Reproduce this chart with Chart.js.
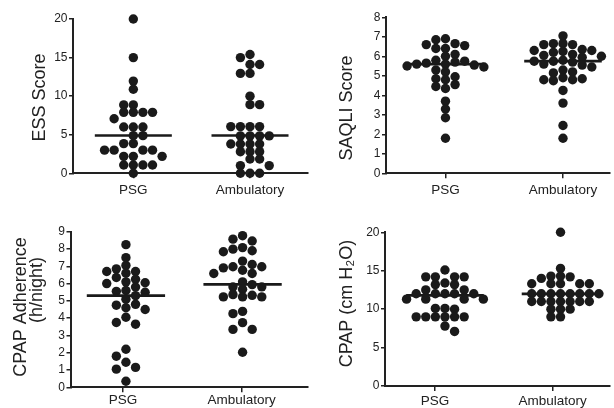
<!DOCTYPE html>
<html><head><meta charset="utf-8">
<script src="https://cdn.jsdelivr.net/npm/chart.js@4"></script>
<style>
html,body{margin:0;padding:0;background:#fff;width:614px;height:408px;overflow:hidden;}
canvas{position:absolute;display:block;}
</style></head><body>
<canvas id="c1" width="312" height="204" style="left:0;top:0"></canvas>
<canvas id="c2" width="302" height="204" style="left:312px;top:0"></canvas>
<canvas id="c3" width="312" height="204" style="left:0;top:204px"></canvas>
<canvas id="c4" width="302" height="204" style="left:312px;top:204px"></canvas>
<script>
// ---------- data ----------
const categories = ["PSG", "Ambulatory"];

const essPSG = [20, 15, 11.95, 10.9, 8.86, 8.86, 7.9, 7.9, 7.9, 7.9, 7.07, 6.0, 6.0, 6.0, 4.88, 4.88, 3.85, 3.85, 3.0, 3.0, 3.0, 3.0, 2.2, 2.2, 2.2, 1.07, 1.07, 1.07, 1.07, 0];
const essAmb = [15.4, 15.0, 14.1, 14.1, 12.95, 12.95, 10.0, 8.9, 8.9, 6.05, 6.05, 6.05, 6.05, 4.85, 4.85, 4.85, 4.85, 3.8, 3.8, 3.8, 3.8, 2.8, 2.8, 2.8, 1.86, 1.86, 1.0, 1.0, 0, 0, 0];
const essMedian = [4.9, 4.9];

const saqliPSG = [6.9, 6.85, 6.65, 6.6, 6.55, 6.4, 6.4, 6.1, 6.0, 5.8, 5.75, 5.7, 5.65, 5.6, 5.6, 5.55, 5.5, 5.45, 5.3, 5.2, 4.95, 4.85, 4.8, 4.55, 4.45, 4.35, 3.7, 3.3, 2.85, 1.8];
const saqliAmb = [7.05, 6.65, 6.6, 6.6, 6.65, 6.35, 6.3, 6.3, 6.25, 6.2, 6.1, 6.05, 6.0, 5.95, 5.8, 5.75, 5.75, 5.7, 5.6, 5.55, 5.45, 5.3, 5.2, 5.15, 4.9, 4.85, 4.8, 4.8, 4.75, 4.25, 3.6, 2.45, 1.8];
const saqliMedian = [5.6, 5.75];

const adhPSG = [8.25, 7.5, 7.05, 6.85, 6.7, 6.7, 6.6, 6.35, 6.25, 6.1, 6.05, 6.0, 5.8, 5.6, 5.55, 5.5, 5.3, 5.1, 4.8, 4.75, 4.6, 4.5, 4.05, 3.75, 3.65, 2.2, 1.8, 1.45, 1.15, 1.05, 0.35];
const adhAmb = [8.77, 8.57, 8.46, 8.08, 7.99, 7.9, 7.84, 7.3, 7.1, 6.97, 6.97, 6.91, 6.77, 6.58, 6.58, 6.1, 5.94, 5.81, 5.81, 5.67, 5.36, 5.32, 5.23, 5.23, 5.23, 4.39, 4.26, 3.74, 3.35, 3.35, 2.03];
const adhMedian = [5.3, 5.95];

const cpapPSG = [15.1, 14.2, 14.2, 14.2, 14.2, 13.4, 13.2, 13.2, 12.5, 12.5, 12, 12, 12, 12, 12, 11.3, 11.3, 11.3, 11.3, 10.1, 10.1, 10, 9, 9, 9, 9, 9, 9, 7.8, 7.1];
const cpapAmb = [20, 15.3, 14.3, 14.3, 14.2, 14, 13.3, 13.3, 13.3, 13.3, 13.3, 12, 12, 12, 12, 12, 12, 12, 12, 11, 11, 11, 11, 11, 11, 11, 10, 10, 10, 9, 9];
const cpapMedian = [11.8, 12.0];

const yTitles = [["ESS Score"], ["SAQLI Score"], ["CPAP Adherence", "(h/night)"], ["CPAP (cm H\u2082O)"]];
const yMax = [20, 8, 9, 20];
const yStep = [5, 1, 1, 5];

// ---------- drawing ----------
const FONT = '"Liberation Sans", Arial, Helvetica, sans-serif';
const INK = '#1a1a1a';
const DOT_R = 4.7;
const DOT_D = 9.6;   // horizontal spacing of dots sharing a row
const ROW_T = 7.0;   // dots closer than this vertically must not share a column
const HALF = 0.33;

const titlePlugin = {
  id: 'axisTitle',
  afterDraw(chart, args, opts) {
    const ctx = chart.ctx;
    ctx.save();
    ctx.fillStyle = '#222';
    ctx.font = '18px ' + FONT;
    ctx.textAlign = 'center';
    ctx.textBaseline = 'middle';
    (opts.lines || []).forEach(t => {
      ctx.save();
      ctx.translate(t.x, t.y);
      ctx.rotate(-Math.PI / 2);
      ctx.fillText(t.text, 0, 0);
      ctx.restore();
    });
    ctx.restore();
  }
};

// scatter-dot layout computed from the y pixel of each value
function swarm(yPix, d, t) {
  const idx = yPix.map((y, i) => i).sort((a, b) => yPix[a] - yPix[b]);
  const placed = [];
  const xs = new Array(yPix.length).fill(0);
  let flip = 1;
  idx.forEach(i => {
    const y = yPix[i];
    const near = placed.filter(q => Math.abs(q.y - y) < t);
    const cands = [0];
    near.forEach(q => { cands.push(q.x + d, q.x - d); });
    cands.sort((a, b) => (Math.abs(a) - Math.abs(b)) || (flip * (a - b)));
    let chosen = 0;
    for (const c of cands) {
      if (near.every(q => Math.abs(q.x - c) >= d - 0.05)) { chosen = c; break; }
    }
    if (chosen !== 0) flip = -flip;
    xs[i] = chosen;
    placed.push({ x: chosen, y });
  });
  return xs;
}

function makePanel(id, cfg) {
  const scatter = cfg.groups.map((vals, gi) => ({
    type: 'scatter',
    data: vals.map(v => ({ x: gi + 1, y: v })),
    backgroundColor: INK, borderWidth: 0,
    pointRadius: DOT_R, pointHoverRadius: DOT_R, clip: false
  }));
  const med = cfg.medians.map((m, gi) => ({
    type: 'line',
    data: [{ x: gi + 1 - HALF, y: m }, { x: gi + 1 + HALF, y: m }],
    borderColor: INK, borderWidth: 2.7, pointRadius: 0, fill: false, clip: false
  }));
  const axisCol = '#222';
  const chart = new Chart(document.getElementById(id), {
    type: 'scatter',
    data: { datasets: [...scatter, ...med] },
    options: {
      responsive: false, animation: false, events: [],
      layout: { padding: { left: 0, right: cfg.padR, top: cfg.padT, bottom: 0 } },
      plugins: { legend: { display: false }, tooltip: { enabled: false }, axisTitle: { lines: cfg.titles } },
      scales: {
        x: {
          type: 'linear', min: cfg.xmin, max: cfg.xmax,
          afterFit: s => { s.height = cfg.xh; },
          afterBuildTicks: s => { s.ticks = categories.map((c, i) => ({ value: i + 1 })); },
          ticks: {
            callback: v => categories[Math.round(v) - 1],
            font: { family: FONT, size: 13.5 }, color: '#222',
            padding: cfg.xpad, autoSkip: false, maxRotation: 0, minRotation: 0
          },
          grid: { display: true, drawOnChartArea: false, drawTicks: true, tickLength: 5, color: axisCol, lineWidth: 1.5 },
          border: { display: true, color: axisCol, width: 2 }
        },
        y: {
          min: 0, max: cfg.ymax,
          afterFit: s => { s.width = cfg.yw; },
          ticks: { stepSize: cfg.step, autoSkip: false, font: { family: FONT, size: 12 }, color: '#222', padding: 1.5 },
          grid: { display: true, drawOnChartArea: false, drawTicks: true, tickLength: 4, color: axisCol, lineWidth: 1.5 },
          border: { display: true, color: axisCol, width: 2 }
        }
      }
    },
    plugins: [titlePlugin]
  });
  const ys = chart.scales.y, xs = chart.scales.x;
  const ppu = xs.getPixelForValue(2) - xs.getPixelForValue(1);
  cfg.groups.forEach((vals, gi) => {
    const c = gi + 1 + (cfg.shift[gi] || 0) / ppu;
    const offs = swarm(vals.map(v => ys.getPixelForValue(v)), DOT_D, ROW_T);
    chart.data.datasets[gi].data = vals.map((v, i) => ({ x: c + offs[i] / ppu, y: v }));
    chart.data.datasets[2 + gi].data = [{ x: c - HALF, y: cfg.medians[gi] }, { x: c + HALF, y: cfg.medians[gi] }];
  });
  chart.update('none');
  return chart;
}

makePanel('c1', {
  groups: [essPSG, essAmb], medians: essMedian, ymax: yMax[0], step: yStep[0],
  yw: 73, padR: 2, padT: 19, xh: 30.7, xmin: 0.483, xmax: 2.491, xpad: 3.4, shift: [0, 0],
  titles: [{ text: yTitles[0][0], x: 40, y: 97.5 }]
});
makePanel('c2', {
  groups: [saqliPSG, saqliAmb], medians: saqliMedian, ymax: yMax[1], step: yStep[1],
  yw: 74, padR: 0, padT: 17.3, xh: 30.7, xmin: 0.494, xmax: 2.394, xpad: 3.4, shift: [0, 0],
  titles: [{ text: yTitles[1][0], x: 35, y: 108 }]
});
makePanel('c3', {
  groups: [adhPSG, adhAmb], medians: adhMedian, ymax: yMax[2], step: yStep[2],
  yw: 70.5, padR: 2, padT: 27.7, xh: 20.7, xmin: 0.558, xmax: 2.554, xpad: 0, shift: [3, 1],
  titles: [{ text: yTitles[2][0], x: 21.5, y: 103 }, { text: yTitles[2][1], x: 37.5, y: 86 }]
});
makePanel('c4', {
  groups: [cpapPSG, cpapAmb], medians: cpapMedian, ymax: yMax[3], step: yStep[3],
  yw: 73, padR: 0, padT: 28.3, xh: 22, xmin: 0.575, xmax: 2.483, xpad: 2.4, shift: [10, 8],
  titles: [{ text: yTitles[3][0], x: 35.5, y: 99.5 }]
});
</script>
</body></html>
